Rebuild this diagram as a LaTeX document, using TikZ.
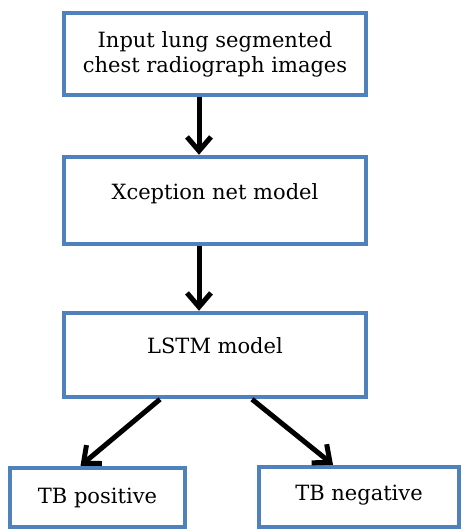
\documentclass[tikz,border=0pt]{standalone}
\usepackage{fontspec}
\setmainfont{DejaVu Serif}
\usetikzlibrary{arrows.meta}
\definecolor{boxblue}{HTML}{4F81BD}
\tikzset{
  box/.style={draw=boxblue, line width=4.5pt, fill=white, inner sep=0pt,
    align=center, font=\fontsize{21}{25}\selectfont},
  arr/.style={line width=5pt, black, -{Straight Barb[length=14pt,width=24pt,line width=5pt]}}
}
\begin{document}
\begin{tikzpicture}[x=1pt,y=-1pt]
\useasboundingbox[fill=white] (0,0) rectangle (463,531);
\node[box, minimum width=302pt, minimum height=82pt] (b1) at (215,54)
  {Input lung segmented\\chest radiograph images};
\node[box, minimum width=302pt, minimum height=87pt, text depth=18pt] (b2) at (215,200.5)
  {Xception net model};
\node[box, minimum width=302pt, minimum height=84pt, text depth=18pt] (b3) at (215,355)
  {LSTM model};
\node[box, minimum width=175pt, minimum height=59pt] (b4) at (97.5,497.5)
  {TB positive};
\node[box, minimum width=200pt, minimum height=60pt, text depth=9pt] (b5) at (359,497)
  {TB negative};
\draw[arr] ([xshift=-16pt]b1.south) -- ([xshift=-16pt]b2.north);
\draw[arr] ([xshift=-16pt]b2.south) -- ([xshift=-16pt]b3.north);
\draw[arr] ([xshift=-55pt]b3.south) -- ([xshift=-17pt]b4.north);
\draw[arr] ([xshift=37pt]b3.south) -- ([xshift=-26pt]b5.north);
\end{tikzpicture}
\end{document}
